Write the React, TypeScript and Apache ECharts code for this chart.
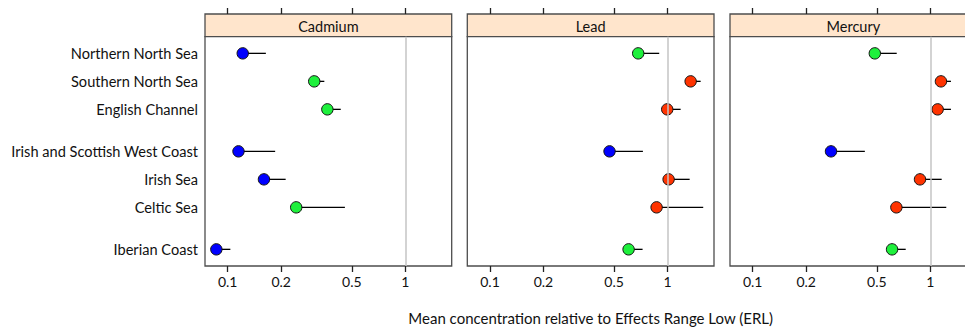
import React, { useEffect, useRef } from "react";
import * as echarts from "echarts";

// ---- data ----
const regions = [
  "Northern North Sea",
  "Southern North Sea",
  "English Channel",
  "Irish and Scottish West Coast",
  "Irish Sea",
  "Celtic Sea",
  "Iberian Coast",
];
const regionGroupSizes = [3, 3, 1];
const metals = ["Cadmium", "Lead", "Mercury"];

const cadmiumMean = [0.1215, 0.307, 0.364, 0.115, 0.16, 0.243, 0.0863];
const cadmiumUpper = [0.164, 0.35, 0.433, 0.185, 0.212, 0.457, 0.1035];
const cadmiumStatus = ["blue", "green", "green", "blue", "blue", "green", "blue"];

const leadMean = [0.683, 1.348, 0.995, 0.471, 1.013, 0.867, 0.603];
const leadUpper = [0.897, 1.535, 1.184, 0.726, 1.331, 1.587, 0.723];
const leadStatus = ["green", "red", "red", "blue", "red", "red", "green"];

const mercuryMean = [0.487, 1.148, 1.1, 0.276, 0.875, 0.644, 0.609];
const mercuryUpper = [0.647, 1.307, 1.307, 0.428, 1.159, 1.23, 0.727];
const mercuryStatus = ["green", "red", "red", "blue", "red", "red", "green"];

const xTicks = [0.1, 0.2, 0.5, 1];
const xMin = 0.0745;
const xMax = 1.825;
const referenceLevel = 1;
const xTitle = "Mean concentration relative to Effects Range Low (ERL)";

// ---- styles / layout ----
const FONT = "Lato, 'Open Sans', sans-serif";
const statusColors: Record<string, string> = {
  blue: "#0000FF",
  green: "#1EF03C",
  red: "#FF3300",
};
const PANEL_LEFTS = [205, 467.3, 730];
const PANEL_W = 246.7;
const STRIP_TOP = 14;
const STRIP_H = 22.7;
const PLOT_TOP = STRIP_TOP + STRIP_H;
const PLOT_BOTTOM = 266;
const H = 327;
const W = 965;
const BORDER = "#4d4d4d";
const TEXT = "#111111";

const lg = (v: number) => Math.log10(v);

function rowPositions(): number[] {
  const pos: number[] = [];
  let y = 0;
  regionGroupSizes.forEach((n) => {
    for (let i = 0; i < n; i++) {
      pos.push(y);
      y += 1;
    }
    y += 0.5;
  });
  return pos;
}

export default function App() {
  const ref = useRef<HTMLDivElement>(null);

  useEffect(() => {
    document.body.style.margin = "0";
    document.body.style.overflow = "hidden";
    if (!ref.current) return;
    const chart = echarts.init(ref.current, null, { renderer: "svg" });

    const pos = rowPositions();
    const yPad = 0.595;
    const yMin = pos[0] - yPad;
    const yMax = pos[pos.length - 1] + yPad;
    const tickLogs = xTicks.map(lg);
    const tickLabel = (v: number) => {
      let best = 0;
      tickLogs.forEach((t, i) => {
        if (Math.abs(t - v) < Math.abs(tickLogs[best] - v)) best = i;
      });
      return String(xTicks[best]);
    };
    const rowLabel = (v: number) => {
      let best = 0;
      pos.forEach((p, i) => {
        if (Math.abs(p - v) < Math.abs(pos[best] - v)) best = i;
      });
      return regions[best];
    };

    const means = [cadmiumMean, leadMean, mercuryMean];
    const uppers = [cadmiumUpper, leadUpper, mercuryUpper];
    const statuses = [cadmiumStatus, leadStatus, mercuryStatus];

    const grids: any[] = [];
    const xAxes: any[] = [];
    const yAxes: any[] = [];
    const series: any[] = [];
    const graphics: any[] = [];

    metals.forEach((metal, k) => {
      const left = PANEL_LEFTS[k];
      // strip grid
      const stripIdx = grids.length;
      grids.push({
        left,
        top: STRIP_TOP,
        width: PANEL_W,
        height: STRIP_H,
        show: true,
        backgroundColor: "#FFE5CC",
        borderColor: BORDER,
        borderWidth: 1.3,
        containLabel: false,
        outerBoundsMode: "none",
      });
      xAxes.push({
        gridIndex: stripIdx,
        type: "value",
        position: "top",
        min: lg(xMin),
        max: lg(xMax),
        axisLine: { show: false, onZero: false },
        axisTick: {
          show: true,
          customValues: tickLogs,
          length: 6,
          lineStyle: { color: "#222", width: 1.3 },
        },
        axisLabel: { show: false },
        splitLine: { show: false },
      });
      yAxes.push({
        gridIndex: stripIdx,
        type: "value",
        show: false,
        min: 0,
        max: 1,
        axisLine: { onZero: false },
      });
      graphics.push({
        type: "text",
        x: left + PANEL_W / 2,
        y: STRIP_TOP + STRIP_H / 2 + 1,
        style: {
          text: metal,
          textAlign: "center",
          textVerticalAlign: "middle",
          fontSize: 14.5,
          fontFamily: FONT,
          fill: TEXT,
        },
      });

      // plot grid
      const plotIdx = grids.length;
      grids.push({
        left,
        top: PLOT_TOP,
        width: PANEL_W,
        height: PLOT_BOTTOM - PLOT_TOP,
        show: true,
        backgroundColor: "#ffffff",
        borderColor: BORDER,
        borderWidth: 1.3,
        containLabel: false,
        outerBoundsMode: "none",
      });
      xAxes.push({
        gridIndex: plotIdx,
        type: "value",
        position: "bottom",
        min: lg(xMin),
        max: lg(xMax),
        axisLine: { show: false, onZero: false },
        axisTick: {
          show: true,
          customValues: tickLogs,
          length: 6,
          lineStyle: { color: "#222", width: 1.3 },
        },
        axisLabel: {
          show: true,
          customValues: tickLogs,
          formatter: (v: number) => tickLabel(v),
          fontSize: 14,
          fontFamily: FONT,
          color: TEXT,
          margin: 8,
        },
        splitLine: { show: false },
        name: k === 1 ? xTitle : "",
        nameLocation: "middle",
        nameGap: 44,
        nameTextStyle: { fontSize: 15, fontFamily: FONT, color: TEXT },
      });
      yAxes.push({
        gridIndex: plotIdx,
        type: "value",
        inverse: true,
        min: yMin,
        max: yMax,
        axisLine: { show: false, onZero: false },
        axisTick: { show: false },
        splitLine: { show: false },
        axisLabel: {
          show: k === 0,
          customValues: pos,
          formatter: (v: number) => rowLabel(v),
          fontSize: 14.6,
          fontFamily: FONT,
          color: TEXT,
          margin: 7,
        },
      });

      // reference line at ERL = 1
      series.push({
        type: "line",
        xAxisIndex: plotIdx,
        yAxisIndex: plotIdx,
        data: [],
        z: 1,
        silent: true,
        markLine: {
          silent: true,
          symbol: ["none", "none"],
          label: { show: false },
          lineStyle: { color: "#c4c4c4", width: 1.5, type: "solid" },
          data: [{ xAxis: lg(referenceLevel) }],
        },
      });

      const st = statuses[k];
      series.push({
        type: "custom",
        xAxisIndex: plotIdx,
        yAxisIndex: plotIdx,
        z: 3,
        encode: { x: [0, 1], y: 2 },
        data: means[k].map((m, i) => [lg(m), lg(uppers[k][i]), pos[i]]),
        renderItem: (params: any, api: any) => {
          const y = api.value(2);
          const p0 = api.coord([api.value(0), y]);
          const p1 = api.coord([api.value(1), y]);
          const color = statusColors[st[params.dataIndex]];
          return {
            type: "group",
            children: [
              {
                type: "line",
                shape: { x1: p0[0], y1: p0[1], x2: p1[0], y2: p1[1] },
                style: { stroke: "#000", lineWidth: 1.3 },
              },
              {
                type: "circle",
                shape: { cx: p0[0], cy: p0[1], r: 5.7 },
                style: { fill: color, stroke: "#111", lineWidth: 1 },
              },
            ],
          };
        },
      });
    });

    chart.setOption({
      animation: false,
      backgroundColor: "#ffffff",
      grid: grids,
      xAxis: xAxes,
      yAxis: yAxes,
      series,
      graphic: graphics,
    });

    return () => chart.dispose();
  }, []);

  return <div ref={ref} style={{ width: W, height: H }} />;
}
